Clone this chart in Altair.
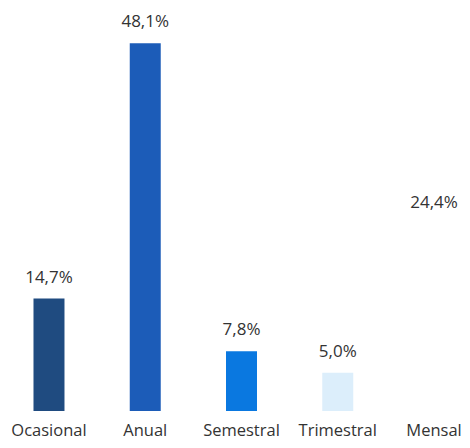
import altair as alt
import pandas as pd

categories = ["Ocasional", "Anual", "Semestral", "Trimestral", "Mensal"]
values = [14.7, 48.1, 7.8, 5.0, 24.4]
labels = ["14,7%", "48,1%", "7,8%", "5,0%", "24,4%"]
colors = ["#1F4B80", "#1C5CB8", "#0A78E0", "#DCEEFB", "#FFFFFF"]

df = pd.DataFrame({"cat": categories, "val": values, "lab": labels, "col": colors})

x = alt.X("cat:N", sort=categories, title=None,
          scale=alt.Scale(range=[-3, 470], paddingInner=0.678, paddingOuter=0.296),
          axis=alt.Axis(labelAngle=0, domain=False, ticks=False, grid=False,
                        labelFont="Open Sans", labelFontSize=16.5, labelColor="#333333",
                        labelPadding=24, labelBaseline="alphabetic"))
y = alt.Y("val:Q", scale=alt.Scale(domain=[0, 52.7], nice=False, zero=True), axis=None)

bars = alt.Chart(df).mark_bar().encode(
    x=x, y=y, color=alt.Color("col:N", scale=None)
)
text = alt.Chart(df).mark_text(
    dy=-16, baseline="alphabetic", font="Open Sans", fontSize=17, color="#333333"
).encode(x=x, y=y, text="lab:N")

chart = (bars + text).properties(
    width=454, height=403,
    autosize=alt.AutoSizeParams(type="none"),
    padding={"left": 0, "top": 0, "right": 0, "bottom": 29},
).configure_view(stroke=None)

chart.save("out.html", embed_options={"renderer": "svg", "actions": False})
